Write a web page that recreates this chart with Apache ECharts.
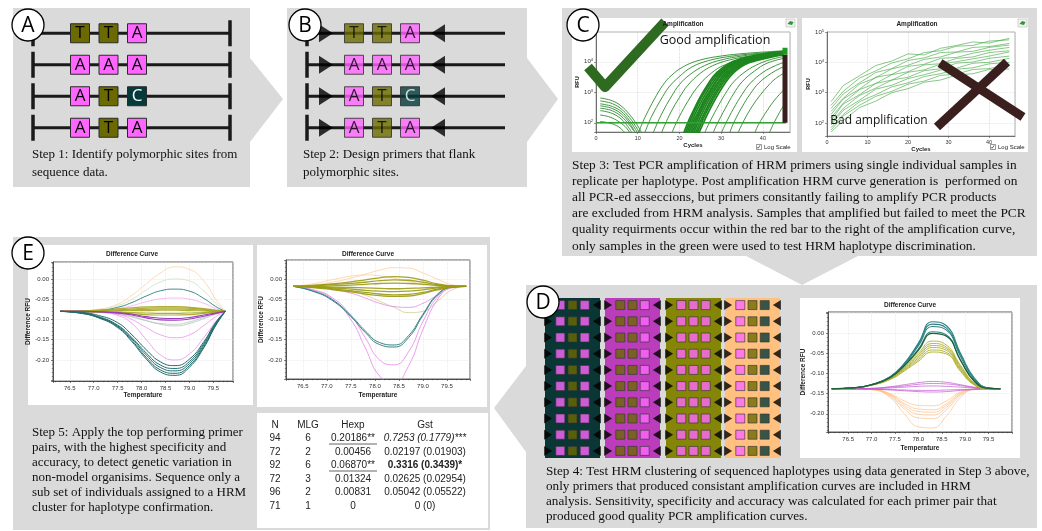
<!DOCTYPE html>
<html><head><meta charset="utf-8">
<script src="https://cdn.jsdelivr.net/npm/echarts@6/dist/echarts.min.js"></script>
<style>html,body{margin:0;padding:0;background:#fff}#c{width:1042px;height:531px}</style>
</head><body><div id="c"></div>
<script>
// ================= DATA =================
const primerSlots = ['fwdPrimer', 'site1', 'site2', 'site3', 'revPrimer'];
const siteSlots = ['site1', 'site2', 'site3'];
const haplotypeRows = ['hap1', 'hap2', 'hap3', 'hap4'];
const haplotypes = [['T','T','A'], ['A','A','A'], ['A','T','C'], ['A','T','A']];
const clusterHaplotypes = [['A','T','A'], ['T','T','A'], ['A','A','A'], ['A','T','C']];
const clusterSamples = ['s1','s2','s3','s4','s5','s6','s7','s8','s9','s10'];

// Step 3, good amplification: [cycle, RFU]
const ampEarly = [
  [[10,40],[11,90],[12,180],[14,600],[16,1700],[18,3500],[21,7000],[25,11500],[30,15500],[36,19000],[45,23000]],
  [[11.5,40],[12.5,90],[13.5,180],[15.5,560],[17.5,1500],[20,3300],[23,6800],[27,11000],[32,15000],[38,18500],[45,22000]],
  [[13.5,40],[14.5,85],[16,230],[18,700],[20,1800],[22.5,3800],[26,7500],[30,11500],[35,15500],[40,18500],[45,20500]],
  [[15.5,40],[16.5,85],[18,230],[20,680],[22,1700],[25,4200],[28,7500],[32,11500],[37,15500],[45,20000]],
  [[18,40],[19,85],[20.5,220],[22.5,650],[24.5,1600],[27,3600],[30,7000],[34,11000],[39,15000],[45,18500]]
];
const ampMain = [
  [[21,45],[22,100],[23,200],[25,700],[27,2000],[29,4500],[32,9000],[36,14000],[41,19000],[45,22000]],
  [[21.4,45],[22.4,100],[23.4,210],[25.4,720],[27.4,2000],[29.4,4400],[32.4,8800],[36.4,13500],[41.4,18500],[45,21000]],
  [[21.8,45],[22.8,100],[23.8,200],[25.8,680],[27.8,1900],[29.8,4300],[32.8,8700],[36.8,13800],[41.8,19000],[45,21500]],
  [[22.2,45],[23.2,100],[24.2,190],[26.2,650],[28.2,1800],[30.2,4200],[33.2,8500],[37.2,13000],[42,17500],[45,20000]],
  [[22.6,45],[23.6,100],[24.6,200],[26.6,700],[28.6,2000],[30.6,4500],[33.6,9000],[37.6,14000],[42,18000],[45,20500]],
  [[23,45],[24,100],[25,210],[27,700],[29,1900],[31,4300],[34,8600],[38,13500],[42.5,17500],[45,19500]],
  [[23.4,45],[24.4,100],[25.4,200],[27.4,680],[29.4,1900],[31.4,4200],[34.4,8400],[38.4,13000],[43,17000],[45,18500]],
  [[23.8,45],[24.8,95],[25.8,190],[27.8,650],[29.8,1850],[31.8,4100],[34.8,8300],[38.8,12800],[43,16500],[45,18000]],
  [[24.2,45],[25.2,95],[26.2,190],[28.2,640],[30.2,1800],[32.2,4000],[35.2,8200],[39.2,12500],[43,16000],[45,17500]],
  [[24.6,45],[25.6,90],[26.6,180],[28.6,600],[30.6,1700],[32.6,3900],[35.6,8000],[39.6,12000],[43,15500],[45,17000]]
];
const ampLate = [
  [[26,45],[27,90],[29,300],[31,900],[33,2200],[36,5000],[39,8500],[42,12000],[45,15000]],
  [[28,45],[29,90],[31,300],[33,900],[35,2200],[38,5000],[41,9000],[45,13000]],
  [[30,45],[31,90],[33,300],[35,850],[37,2000],[40,4500],[43,7500],[45,9500]],
  [[32,45],[33,100],[35,330],[37,900],[39,2000],[42,4200],[45,7000]],
  [[34,45],[35,90],[37,280],[39,700],[41,1500],[43,2800],[45,4200]],
  [[38,45],[39,90],[41,250],[43,600],[45,1200]],
  [[41.5,45],[42.5,90],[44,220],[45,380]]
];
const ampBaseline = [
  [[1,650],[2,620],[4,520],[6,360],[8,190],[10,80],[11,45]],
  [[1,520],[2,500],[4,420],[6,290],[8,150],[10,60],[10.5,45]],
  [[1,420],[2,400],[4,340],[6,240],[8,120],[9.5,60],[10,45]],
  [[1,360],[2,345],[4,290],[6,200],[8,100],[9.5,45]],
  [[1,300],[2,290],[4,245],[6,165],[8,85],[9,55]],
  [[1,250],[2,240],[4,200],[6,135],[7.5,80],[8.5,50]],
  [[1,180],[3,160],[5,120],[7,75],[8,50]],
  [[1,110],[3,100],[5,80],[6.5,55],[7,45]]
];
const ampThreshold = [[0,100],[45.5,100]];
const failBar = [[45.3,100],[45.3,17000]];
const passBar = [[45.3,17000],[45.3,29000]];

// Step 3, bad amplification
const badCycles = [1,4,8,12,16,20,24,28,32,36,40,45];
const ampBad = [
  [500,1700,3600,7800,11000,19000,17500,29000,36000,47000,43000,62000],
  [380,1100,3000,5200,9500,13000,21000,24000,34000,36000,50000,55000],
  [300,900,2100,4600,6200,11500,14000,21000,22000,31000,33000,42000],
  [240,650,1900,3100,6100,8000,12500,15000,21500,23000,31000,37000],
  [190,620,1300,3200,4000,7300,8600,13500,14500,20000,25000,31000],
  [150,450,1250,2000,3900,4900,8200,9000,13500,15000,21000,24000],
  [120,420,850,2000,2600,4700,5600,8800,10500,13000,16000,22000],
  [100,300,800,1400,2600,3200,5300,6100,9400,10200,13500,16000],
  [85,260,560,1300,1750,2900,3900,5500,6400,9300,10000,13500],
  [70,190,500,850,1550,2100,3400,4200,5900,6600,8900,10000],
  [58,170,380,750,1100,1900,2400,3700,4100,5800,6200,8500],
  [50,120,320,520,1000,1350,2200,2600,3800,4200,5800,6000]
];

// Step 5, difference curve (left)
const tempsE1 = [76.3,76.7,77.1,77.5,77.8,78.1,78.4,78.7,79.0,79.3,79.55,79.75];
const e1TealDown = [
  [-0.080,-0.084,-0.096,-0.120,-0.155,-0.198,-0.230,-0.238,-0.218,-0.170,-0.115,-0.080],
  [-0.080,-0.084,-0.095,-0.118,-0.152,-0.194,-0.225,-0.233,-0.214,-0.167,-0.113,-0.080],
  [-0.080,-0.083,-0.094,-0.116,-0.148,-0.188,-0.219,-0.227,-0.209,-0.163,-0.111,-0.080],
  [-0.080,-0.083,-0.093,-0.114,-0.145,-0.183,-0.213,-0.221,-0.204,-0.159,-0.109,-0.080],
  [-0.080,-0.082,-0.090,-0.108,-0.138,-0.175,-0.205,-0.214,-0.198,-0.155,-0.107,-0.080]
];
const e1GreyDown = [
  [-0.080,-0.080,-0.082,-0.087,-0.094,-0.103,-0.110,-0.112,-0.106,-0.095,-0.086,-0.080],
  [-0.080,-0.080,-0.081,-0.085,-0.092,-0.103,-0.112,-0.116,-0.110,-0.098,-0.087,-0.080]
];
const e1PinkDown = [
  [-0.080,-0.080,-0.082,-0.090,-0.110,-0.150,-0.188,-0.200,-0.185,-0.145,-0.105,-0.080],
  [-0.080,-0.080,-0.081,-0.087,-0.100,-0.120,-0.138,-0.145,-0.138,-0.115,-0.093,-0.080]
];
const e1Purple = [
  [-0.080,-0.080,-0.081,-0.084,-0.089,-0.096,-0.101,-0.102,-0.099,-0.092,-0.085,-0.080],
  [-0.080,-0.080,-0.081,-0.083,-0.087,-0.093,-0.097,-0.098,-0.095,-0.089,-0.084,-0.080]
];
const e1Olive = [
  [-0.080,-0.079,-0.077,-0.074,-0.071,-0.069,-0.068,-0.068,-0.070,-0.073,-0.077,-0.080],
  [-0.080,-0.079,-0.078,-0.076,-0.074,-0.072,-0.071,-0.071,-0.072,-0.075,-0.078,-0.080],
  [-0.080,-0.080,-0.079,-0.078,-0.076,-0.075,-0.074,-0.074,-0.075,-0.077,-0.079,-0.080],
  [-0.080,-0.080,-0.080,-0.079,-0.078,-0.078,-0.077,-0.077,-0.078,-0.079,-0.080,-0.080],
  [-0.080,-0.080,-0.081,-0.082,-0.083,-0.084,-0.085,-0.085,-0.084,-0.083,-0.081,-0.080],
  [-0.080,-0.081,-0.082,-0.084,-0.086,-0.088,-0.089,-0.089,-0.088,-0.085,-0.082,-0.080]
];
const e1OrangeUp = [[-0.080,-0.079,-0.075,-0.062,-0.040,-0.012,0.015,0.030,0.024,-0.005,-0.050,-0.080]];
const e1GreenUp = [[-0.080,-0.079,-0.076,-0.066,-0.050,-0.027,-0.007,0.000,-0.005,-0.030,-0.060,-0.080]];
const e1TealUp = [[-0.080,-0.080,-0.078,-0.070,-0.058,-0.042,-0.029,-0.025,-0.030,-0.048,-0.068,-0.080]];
const e1PinkUp = [[-0.080,-0.080,-0.078,-0.073,-0.066,-0.056,-0.049,-0.047,-0.050,-0.060,-0.073,-0.080]];

// Step 5, difference curve (right)
const tempsE2 = [76.3,76.7,77.1,77.5,77.8,78.1,78.4,78.7,79.0,79.3,79.6,79.9];
const e2TealDown = [
  [-0.018,-0.030,-0.052,-0.093,-0.132,-0.162,-0.168,-0.145,-0.090,-0.040,-0.020,-0.018],
  [-0.018,-0.029,-0.050,-0.090,-0.128,-0.157,-0.163,-0.140,-0.087,-0.038,-0.020,-0.018]
];
const e2PinkDown = [
  [-0.018,-0.026,-0.045,-0.090,-0.145,-0.200,-0.212,-0.180,-0.105,-0.045,-0.020,-0.018],
  [-0.018,-0.027,-0.048,-0.100,-0.170,-0.240,-0.255,-0.215,-0.125,-0.052,-0.021,-0.018],
  [-0.018,-0.020,-0.025,-0.035,-0.047,-0.060,-0.068,-0.070,-0.060,-0.040,-0.022,-0.018]
];
const e2Olive = [
  [-0.018,-0.016,-0.012,-0.007,-0.002,0.003,0.006,0.004,-0.003,-0.012,-0.017,-0.018],
  [-0.018,-0.017,-0.014,-0.011,-0.008,-0.004,-0.002,-0.003,-0.008,-0.014,-0.017,-0.018],
  [-0.018,-0.018,-0.017,-0.015,-0.013,-0.011,-0.010,-0.011,-0.013,-0.016,-0.018,-0.018],
  [-0.018,-0.019,-0.020,-0.021,-0.022,-0.023,-0.024,-0.023,-0.022,-0.020,-0.018,-0.018],
  [-0.018,-0.019,-0.022,-0.025,-0.028,-0.030,-0.031,-0.030,-0.027,-0.022,-0.019,-0.018],
  [-0.018,-0.020,-0.024,-0.029,-0.033,-0.037,-0.039,-0.038,-0.033,-0.025,-0.020,-0.018],
  [-0.018,-0.021,-0.026,-0.032,-0.037,-0.041,-0.043,-0.042,-0.036,-0.027,-0.020,-0.018]
];
const e2PaleOlive = [[-0.018,-0.019,-0.022,-0.030,-0.040,-0.055,-0.070,-0.083,-0.080,-0.055,-0.027,-0.018]];
const e2OrangeUp = [
  [-0.018,-0.015,-0.008,0.002,0.012,0.022,0.028,0.027,0.015,0.000,-0.014,-0.018],
  [-0.018,-0.012,-0.002,0.007,0.010,0.008,0.002,-0.006,-0.012,-0.016,-0.018,-0.018]
];

// Step 4, difference curve
const tempsD = [76.15,76.6,77.0,77.4,77.7,78.0,78.3,78.6,78.9,79.2,79.5,79.75];
const dTealUp = [
  [-0.138,-0.136,-0.128,-0.108,-0.075,-0.025,0.028,0.018,-0.050,-0.112,-0.136,-0.138],
  [-0.138,-0.136,-0.128,-0.108,-0.076,-0.028,0.022,0.012,-0.054,-0.114,-0.136,-0.138],
  [-0.138,-0.136,-0.128,-0.109,-0.078,-0.032,0.016,0.007,-0.058,-0.116,-0.137,-0.138],
  [-0.138,-0.136,-0.128,-0.110,-0.080,-0.040,0.003,-0.005,-0.066,-0.119,-0.137,-0.138]
];
const dGreenUp = [[-0.138,-0.136,-0.128,-0.110,-0.081,-0.043,-0.001,-0.008,-0.068,-0.120,-0.137,-0.138]];
const dOliveUp = [
  [-0.138,-0.136,-0.128,-0.110,-0.084,-0.050,-0.020,-0.030,-0.080,-0.124,-0.137,-0.138],
  [-0.138,-0.136,-0.128,-0.111,-0.086,-0.054,-0.026,-0.035,-0.083,-0.125,-0.137,-0.138],
  [-0.138,-0.136,-0.129,-0.112,-0.088,-0.058,-0.031,-0.039,-0.086,-0.126,-0.137,-0.138],
  [-0.138,-0.136,-0.129,-0.113,-0.090,-0.062,-0.036,-0.043,-0.089,-0.127,-0.137,-0.138],
  [-0.138,-0.136,-0.129,-0.114,-0.092,-0.066,-0.042,-0.048,-0.092,-0.128,-0.138,-0.138],
  [-0.138,-0.136,-0.129,-0.115,-0.094,-0.070,-0.047,-0.052,-0.095,-0.129,-0.138,-0.138]
];
const dPurple = [
  [-0.138,-0.138,-0.137,-0.133,-0.128,-0.123,-0.120,-0.122,-0.128,-0.134,-0.137,-0.138],
  [-0.138,-0.138,-0.137,-0.134,-0.131,-0.127,-0.125,-0.126,-0.130,-0.135,-0.137,-0.138],
  [-0.138,-0.138,-0.138,-0.136,-0.134,-0.132,-0.131,-0.132,-0.134,-0.136,-0.138,-0.138],
  [-0.138,-0.138,-0.139,-0.140,-0.141,-0.142,-0.142,-0.141,-0.140,-0.139,-0.138,-0.138],
  [-0.138,-0.138,-0.139,-0.141,-0.143,-0.145,-0.146,-0.145,-0.142,-0.140,-0.138,-0.138]
];
const dOrangeDown = [
  [-0.138,-0.138,-0.140,-0.160,-0.200,-0.232,-0.235,-0.205,-0.160,-0.139,-0.138,-0.138],
  [-0.138,-0.138,-0.140,-0.157,-0.188,-0.210,-0.212,-0.190,-0.155,-0.139,-0.138,-0.138],
  [-0.138,-0.138,-0.140,-0.155,-0.183,-0.201,-0.203,-0.184,-0.152,-0.139,-0.138,-0.138],
  [-0.138,-0.138,-0.139,-0.153,-0.178,-0.194,-0.196,-0.179,-0.150,-0.139,-0.138,-0.138],
  [-0.138,-0.138,-0.139,-0.152,-0.174,-0.188,-0.190,-0.175,-0.148,-0.139,-0.138,-0.138],
  [-0.138,-0.138,-0.139,-0.150,-0.168,-0.179,-0.180,-0.168,-0.146,-0.139,-0.138,-0.138]
];

// Step 5 table
const tableHeader = ['N', 'MLG', 'Hexp', 'Gst'];
const tableN = ['94', '72', '92', '72', '96', '71'];
const tableMLG = ['6', '2', '6', '3', '2', '1'];
const tableHexp = ['0.20186**', '0.00456', '0.06870**', '0.01324', '0.00831', '0'];
const tableGst = ['0.7253 (0.1779)***', '0.02197 (0.01903)', '0.3316 (0.3439)*', '0.02625 (0.02954)', '0.05042 (0.05522)', '0 (0)'];

const step1Text = 'Step 1: Identify polymorphic sites from\nsequence data.';
const step2Text = 'Step 2: Design primers that flank\npolymorphic sites.';
const step3Text = 'Step 3: Test PCR amplification of HRM primers using single individual samples in\nreplicate per haplotype. Post amplification HRM curve generation is  performed on\nall PCR-ed asseccions, but primers consitantly failing to amplify PCR products\nare excluded from HRM analysis. Samples that amplified but failed to meet the PCR\nquality requirments occur within the red bar to the right of the amplification curve,\nonly samples in the green were used to test HRM haplotype discrimination.';
const step4Text = 'Step 4: Test HRM clustering of sequenced haplotypes using data generated in Step 3 above,\nonly primers that produced consistant amplification curves are included in HRM\nanalysis. Sensitivity, specificity and accuracy was calculated for each primer pair that\nproduced good quality PCR amplification curves.';
const step5Text = 'Step 5: Apply the top performing primer\npairs, with the highest specificity and\naccuracy, to detect genetic variation in\nnon-model organisims. Sequence only a\nsub set of individuals assigned to a HRM\ncluster for haplotype confirmation.';

// ================= STYLE / LAYOUT =================
const baseColors = {A: '#ff66ff', T: '#6b6a00', C: '#043a3a'};
const clusterColors = ['#0b3636', '#bb3dbb', '#858508', '#ffc080'];
const PANEL = '#dadada';
const SERIF = '"Liberation Serif", "DejaVu Serif", serif';
const SANS = '"Liberation Sans", Arial, sans-serif';
const OPEN = '"Open Sans", "Noto Sans", sans-serif';

const G = [];
function poly(pts, fill, z) { G.push({type: 'polygon', silent: true, z: z, shape: {points: pts}, style: {fill: fill}}); }
function rect(x, y, w, h, fill, z, stroke, lw) { G.push({type: 'rect', silent: true, z: z, shape: {x: x, y: y, width: w, height: h}, style: {fill: fill, stroke: stroke || null, lineWidth: lw || 0}}); }
function seg(x1, y1, x2, y2, color, w, z) { G.push({type: 'line', silent: true, z: z, shape: {x1: x1, y1: y1, x2: x2, y2: y2}, style: {stroke: color, lineWidth: w}}); }
function txt(x, y, s, o) {
  o = o || {};
  const st = {text: s, fill: o.color || '#111', fontSize: o.size || 13, fontFamily: o.family || SERIF,
    fontWeight: o.weight || 'normal', fontStyle: o.style || 'normal',
    align: o.align || 'left', verticalAlign: o.va || 'top', textAlign: o.align || 'left', textVerticalAlign: o.va || 'top'};
  if (o.lh) st.lineHeight = o.lh;
  G.push({type: 'text', silent: true, x: x, y: y, rotation: o.rot || 0, z: o.z || 60, style: st});
}
function badge(cx, cy, letter) {
  G.push({type: 'circle', silent: true, z: 70, shape: {cx: cx, cy: cy, r: 16}, style: {fill: '#fff', stroke: '#000', lineWidth: 1.3}});
  txt(cx, cy + 1, letter, {size: 21, family: OPEN, align: 'center', va: 'middle', z: 71, color: '#000'});
}

// ---- panels ----
poly([[13,8],[250,8],[250,58],[283,99],[250,142],[250,187],[13,187]], PANEL, -5);
poly([[287,8],[527,8],[527,58],[558,99],[527,142],[527,187],[287,187]], PANEL, -5);
poly([[562,8],[1037,8],[1037,256],[858,256],[802,285],[746,256],[562,256]], PANEL, -5);
poly([[526,285],[1037,285],[1037,528],[526,528],[526,452],[494,408],[526,366]], PANEL, -5);
rect(13, 237, 477, 293, PANEL, -5);

// white boxes
rect(572, 18, 225, 134, '#fff', -4);
rect(802, 18, 226, 134, '#fff', -4);
rect(28, 245, 225, 160, '#fff', -4);
rect(257, 245, 230, 162, '#fff', -4);
rect(800, 298, 220, 160, '#fff', -4);
rect(257, 413, 231, 115, '#fff', -4);

const grids = [], xAxes = [], yAxes = [], series = [];
function addGrid(g) { grids.push(Object.assign({containLabel: false}, g)); return grids.length - 1; }

// ---- schematic A ----
const rowH = 31.5, rowTop = 17.5;
(function () {
  const gi = addGrid({left: 65.75, top: rowTop, width: 85.5, height: rowH * 4, show: false});
  xAxes.push({gridIndex: gi, type: 'category', data: siteSlots, show: false});
  yAxes.push({gridIndex: gi, type: 'category', data: haplotypeRows, inverse: true, show: false});
  haplotypeRows.forEach(function (h, r) {
    const y = rowTop + (r + 0.5) * rowH;
    seg(33, y, 230, y, '#1a1a1a', 3, 1);
    seg(33, y - 13, 33, y + 13, '#1a1a1a', 3.5, 1);
    seg(230, y - 13, 230, y + 13, '#1a1a1a', 3.5, 1);
  });
  series.push({type: 'scatter', xAxisIndex: gi, yAxisIndex: gi, symbol: 'rect', symbolSize: 19, silent: true, z: 5,
    itemStyle: {borderColor: '#2a2a2a', borderWidth: 1, opacity: 1},
    label: {show: true, position: 'inside', fontSize: 17, fontFamily: OPEN},
    data: haplotypes.flatMap(function (row, r) { return row.map(function (b, i) {
      return {value: [i, r], itemStyle: {color: baseColors[b]}, label: {formatter: b, color: b === 'C' ? '#fff' : '#000'}}; }); })});
})();

// ---- schematic B ----
(function () {
  const gi = addGrid({left: 312, top: rowTop, width: 140, height: rowH * 4, show: false});
  xAxes.push({gridIndex: gi, type: 'category', data: primerSlots, show: false});
  yAxes.push({gridIndex: gi, type: 'category', data: haplotypeRows, inverse: true, show: false});
  haplotypeRows.forEach(function (h, r) {
    const y = rowTop + (r + 0.5) * rowH;
    seg(307, y, 505, y, '#1a1a1a', 3, 1);
    seg(307, y - 13, 307, y + 13, '#1a1a1a', 3.5, 1);
  });
  series.push({type: 'scatter', xAxisIndex: gi, yAxisIndex: gi, symbol: 'rect', symbolSize: 19, silent: true, z: 5,
    itemStyle: {borderColor: '#2a2a2a', borderWidth: 1},
    label: {show: true, position: 'inside', fontSize: 17, fontFamily: OPEN},
    data: haplotypes.flatMap(function (row, r) { return row.map(function (b, i) {
      return {value: [i + 1, r], itemStyle: {color: baseColors[b]}, label: {formatter: b, color: b === 'C' ? '#fff' : '#000'}}; }); })});
  series.push({type: 'scatter', xAxisIndex: gi, yAxisIndex: gi, symbol: 'triangle', symbolSize: [18, 14], silent: true, z: 5,
    itemStyle: {color: '#000'},
    data: haplotypeRows.flatMap(function (h, r) { return [{value: [0, r], symbolRotate: -90}, {value: [4, r], symbolRotate: 90}]; })});
})();

// ---- schematic D (4 clusters) ----
const clusterLeft = [545, 605, 666, 725];
clusterHaplotypes.forEach(function (hap, k) {
  rect(clusterLeft[k], 298, 55, 160, clusterColors[k], -3);
  const gi = addGrid({left: clusterLeft[k] - 3, top: 297, width: 61, height: 162, show: false});
  xAxes.push({gridIndex: gi, type: 'category', data: primerSlots, show: false});
  yAxes.push({gridIndex: gi, type: 'category', data: clusterSamples, inverse: true, show: false});
  series.push({type: 'scatter', xAxisIndex: gi, yAxisIndex: gi, symbol: 'rect', symbolSize: 9, silent: true, z: 5,
    itemStyle: {borderColor: '#333', borderWidth: 0.8},
    data: clusterSamples.flatMap(function (s, r) { return hap.map(function (b, i) {
      return {value: [i + 1, r], itemStyle: {color: baseColors[b]}}; }); })});
  series.push({type: 'scatter', xAxisIndex: gi, yAxisIndex: gi, symbol: 'triangle', symbolSize: [10, 8], silent: true, z: 5,
    itemStyle: {color: '#000'},
    data: clusterSamples.flatMap(function (s, r) { return [{value: [0, r], symbolRotate: -90}, {value: [4, r], symbolRotate: 90}]; })});
});

// ---- amplification charts ----
function logLabel(v) {
  const e = Math.log10(v);
  if (Math.abs(e - Math.round(e)) > 0.01) return '';
  return '10{s|' + Math.round(e) + '}';
}
function ampChart(box, xmax, ymin, ymax) {
  const gi = addGrid({left: box.l, top: box.t, width: box.w, height: box.h, show: true, borderColor: '#999', borderWidth: 0.8, backgroundColor: 'transparent'});
  xAxes.push({gridIndex: gi, type: 'value', min: 0, max: xmax, interval: 10,
    name: 'Cycles', nameLocation: 'middle', nameGap: 10, nameTextStyle: {fontSize: 6, fontWeight: 'bold', fontFamily: SANS, color: '#222'},
    axisLine: {onZero: false, lineStyle: {color: '#555', width: 0.8}}, axisTick: {length: 2, lineStyle: {color: '#555', width: 0.6}},
    axisLabel: {fontSize: 5.5, color: '#333', margin: 3, showMaxLabel: false, fontFamily: SANS},
    splitLine: {show: true, lineStyle: {color: '#ccc', type: 'dotted', width: 0.7}}});
  yAxes.push({gridIndex: gi, type: 'log', logBase: 10, min: ymin, max: ymax,
    name: 'RFU', nameLocation: 'middle', nameGap: 16, nameRotate: 90, nameTextStyle: {fontSize: 5.5, fontWeight: 'bold', fontFamily: SANS, color: '#222'},
    axisLine: {onZero: false, lineStyle: {color: '#555', width: 0.8}}, axisTick: {length: 2, lineStyle: {color: '#555', width: 0.6}},
    axisLabel: {fontSize: 6, color: '#333', margin: 3, fontFamily: SANS, formatter: logLabel,
      rich: {s: {fontSize: 4, verticalAlign: 'top', color: '#333', padding: [0, 0, 3, 0]}}},
    splitLine: {show: true, lineStyle: {color: '#ddd', type: 'dotted', width: 0.7}}});
  return gi;
}
function lineS(gi, data, color, width, opacity, smooth, z) {
  series.push({type: 'line', xAxisIndex: gi, yAxisIndex: gi, data: data, smooth: smooth, symbol: 'none', silent: true, z: z || 3,
    clip: true, lineStyle: {color: color, width: width, opacity: opacity}});
}
const gC1 = ampChart({l: 596, t: 32, w: 194, h: 100}, 46.5, 50, 95000);
ampBaseline.forEach(function (c) { lineS(gC1, c, '#2a8a2a', 0.9, 1, 0.4); });
ampEarly.forEach(function (c) { lineS(gC1, c, '#2a8a2a', 0.9, 1, 0.4); });
ampMain.forEach(function (c) { lineS(gC1, c, '#1e861e', 1.8, 1, 0.4); });
ampLate.forEach(function (c) { lineS(gC1, c, '#2a8a2a', 0.9, 1, 0.4); });
lineS(gC1, ampThreshold, '#33a033', 1.6, 1, false, 4);
lineS(gC1, failBar, '#3a1d1d', 5, 1, false, 6);
lineS(gC1, passBar, '#1e9a1e', 5, 1, false, 6);

const gC2 = ampChart({l: 827, t: 32, w: 188, h: 104}, 46.4, 37, 100000);
ampBad.forEach(function (c) { lineS(gC2, badCycles.map(function (x, i) { return [x, c[i]]; }), '#45a845', 0.8, 0.8, false); });

// ---- difference charts ----
function diffChart(box, xr, yr, temps, groups) {
  const gi = addGrid({left: box.l, top: box.t, width: box.w, height: box.h, show: true, borderColor: '#333', borderWidth: 0.8, backgroundColor: 'transparent'});
  xAxes.push({gridIndex: gi, type: 'value', min: xr[0], max: xr[1], splitNumber: 7,
    name: 'Temperature', nameLocation: 'middle', nameGap: box.xg, nameTextStyle: {fontSize: 6.5, fontWeight: 'bold', fontFamily: SANS, color: '#222'},
    axisLine: {onZero: false, lineStyle: {color: '#333', width: 0.8}}, axisTick: {length: 2, lineStyle: {color: '#333', width: 0.6}},
    minorTick: {show: true, splitNumber: 5, length: 1.2, lineStyle: {color: '#333', width: 0.5}},
    axisLabel: {fontSize: 6, color: '#333', margin: 4, fontFamily: SANS, showMinLabel: false, showMaxLabel: false,
      formatter: function (v) { return v.toFixed(1); }},
    splitLine: {show: true, lineStyle: {color: '#e3e3e3', type: 'dotted', width: 0.7}}});
  yAxes.push({gridIndex: gi, type: 'value', min: yr[0], max: yr[1], splitNumber: 6,
    name: 'Difference RFU', nameLocation: 'middle', nameGap: box.yg, nameRotate: 90, nameTextStyle: {fontSize: 6.5, fontWeight: 'bold', fontFamily: SANS, color: '#222'},
    axisLine: {onZero: false, lineStyle: {color: '#333', width: 0.8}}, axisTick: {length: 2, lineStyle: {color: '#333', width: 0.6}},
    minorTick: {show: true, splitNumber: 5, length: 1.2, lineStyle: {color: '#333', width: 0.5}},
    axisLabel: {fontSize: 6, color: '#333', margin: 4, fontFamily: SANS, showMinLabel: false, showMaxLabel: false,
      formatter: function (v) { return (v < -0.225 || v > 0.01) ? '' : v.toFixed(2); }},
    splitLine: {show: true, lineStyle: {color: '#e3e3e3', type: 'dotted', width: 0.7}}});
  groups.forEach(function (g) {
    g.curves.forEach(function (c) { lineS(gi, temps.map(function (t, i) { return [t, c[i]]; }), g.color, g.width, g.op, true, g.z); });
  });
  return gi;
}
diffChart({l: 53, t: 262, w: 180, h: 119, xg: 11, yg: 20}, [76.15, 79.91], [-0.252, 0.042], tempsE1, [
  {curves: e1OrangeUp, color: '#ffd6ad', width: 0.9, op: 1},
  {curves: e1GreenUp, color: '#d2e4c4', width: 0.9, op: 1},
  {curves: e1PinkUp, color: '#f4b4ee', width: 0.9, op: 1},
  {curves: e1TealUp, color: '#3c8a8a', width: 1, op: 1},
  {curves: e1GreyDown, color: '#b9c9c0', width: 0.9, op: 1},
  {curves: e1PinkDown, color: '#ee9cee', width: 0.9, op: 1},
  {curves: e1Olive, color: '#a6a622', width: 1.2, op: 0.9},
  {curves: e1Purple, color: '#9a3cb8', width: 1.1, op: 1},
  {curves: e1TealDown, color: '#1f6c6c', width: 1, op: 1, z: 4}
]);
diffChart({l: 286, t: 260, w: 184, h: 119, xg: 13, yg: 20}, [76.15, 79.98], [-0.247, 0.047], tempsE2, [
  {curves: e2OrangeUp, color: '#ffd2a6', width: 0.9, op: 1},
  {curves: e2PaleOlive, color: '#d4d49a', width: 0.9, op: 1},
  {curves: e2PinkDown, color: '#e48ae4', width: 0.9, op: 0.9},
  {curves: e2TealDown, color: '#3a8585', width: 1, op: 1},
  {curves: e2Olive, color: '#9a9a12', width: 1.3, op: 0.9}
]);
diffChart({l: 828, t: 312, w: 184, h: 120, xg: 13, yg: 17}, [76.07, 80.0], [-0.245, 0.052], tempsD, [
  {curves: dOrangeDown, color: '#ffc288', width: 0.8, op: 0.9},
  {curves: dPurple, color: '#c455d2', width: 0.8, op: 0.9},
  {curves: dOliveUp, color: '#aeae2c', width: 1, op: 0.9},
  {curves: dTealUp, color: '#2f8383', width: 1.1, op: 1},
  {curves: dGreenUp, color: '#1d5f33', width: 1.2, op: 1}
]);

// ---- chart titles / chrome ----
txt(683, 24, 'Amplification', {size: 6.5, family: SANS, weight: 'bold', align: 'center', va: 'middle', color: '#222'});
txt(917, 24, 'Amplification', {size: 6.5, family: SANS, weight: 'bold', align: 'center', va: 'middle', color: '#222'});
txt(132, 254, 'Difference Curve', {size: 6.5, family: SANS, weight: 'bold', align: 'center', va: 'middle', color: '#222'});
txt(368, 254, 'Difference Curve', {size: 6.5, family: SANS, weight: 'bold', align: 'center', va: 'middle', color: '#222'});
txt(910, 305, 'Difference Curve', {size: 6.5, family: SANS, weight: 'bold', align: 'center', va: 'middle', color: '#222'});
[[786, 19], [1018, 19]].forEach(function (p) {
  rect(p[0], p[1], 9, 8, '#f2f2f2', 10, '#bbb', 0.6);
  G.push({type: 'polygon', silent: true, z: 11, shape: {points: [[p[0]+1.5, p[1]+5], [p[0]+4, p[1]+2], [p[0]+7.5, p[1]+3], [p[0]+6, p[1]+6]]}, style: {fill: '#2f9a2f'}});
});
[[759, 147], [993, 147]].forEach(function (p) {
  rect(p[0] - 2.5, p[1] - 2.5, 5, 5, '#fff', 10, '#555', 0.6);
  txt(p[0], p[1], '\u2713', {size: 6, family: '"DejaVu Sans"', align: 'center', va: 'middle', color: '#111', z: 11});
  txt(p[0] + 5, p[1], 'Log Scale', {size: 6, family: SANS, va: 'middle', color: '#222'});
});

// annotations on amplification charts
G.push({type: 'polyline', silent: true, z: 40, shape: {points: [[588, 67], [605, 87], [665, 22]]}, style: {stroke: '#2e6b20', lineWidth: 10, fill: null, lineJoin: 'round'}});
txt(715, 40, 'Good amplification', {size: 12.5, family: OPEN, align: 'center', va: 'middle', color: '#111'});
seg(940, 63, 1023, 117, '#3b1f1f', 9, 40);
seg(1007, 62, 937, 127, '#3b1f1f', 9, 40);
txt(879, 121, 'Bad amplification', {size: 12, family: OPEN, align: 'center', va: 'middle', color: '#111'});

// ---- step texts ----
txt(32, 146, step1Text, {size: 13, lh: 18});
txt(303, 146, step2Text, {size: 13, lh: 18});
txt(572, 157, step3Text, {size: 13.4, lh: 16.2});
txt(546, 464.5, step4Text, {size: 13.2, lh: 15});
txt(32, 425.5, step5Text, {size: 13, lh: 15});

// ---- table ----
const colX = [275, 308, 353, 425];
tableHeader.forEach(function (h, i) { txt(colX[i], 425, h, {size: 10, family: SANS, align: 'center', va: 'middle', color: '#222'}); });
tableN.forEach(function (v, r) {
  const y = 438.5 + r * 13.5;
  txt(colX[0], y, tableN[r], {size: 10, family: SANS, align: 'center', va: 'middle', color: '#222'});
  txt(colX[1], y, tableMLG[r], {size: 10, family: SANS, align: 'center', va: 'middle', color: '#222'});
  txt(colX[2], y, tableHexp[r], {size: 10, family: SANS, align: 'center', va: 'middle', color: '#222'});
  txt(colX[3], y, tableGst[r], {size: 10, family: SANS, align: 'center', va: 'middle', color: '#222',
    style: r === 0 ? 'italic' : 'normal', weight: r === 2 ? 'bold' : 'normal'});
  if (tableHexp[r].indexOf('**') > 0) seg(colX[2] - 24, y + 5.5, colX[2] + 24, y + 5.5, '#222', 0.7, 60);
});

// ---- badges ----
badge(28, 25, 'A');
badge(305, 25, 'B');
badge(583, 25, 'C');
badge(543, 302, 'D');
badge(28, 253, 'E');

const chart = echarts.init(document.getElementById('c'), null, {renderer: 'canvas', width: 1042, height: 531});
chart.setOption({
  animation: false,
  backgroundColor: '#fff',
  grid: grids, xAxis: xAxes, yAxis: yAxes, series: series,
  graphic: {elements: G}
});
</script></body></html>
